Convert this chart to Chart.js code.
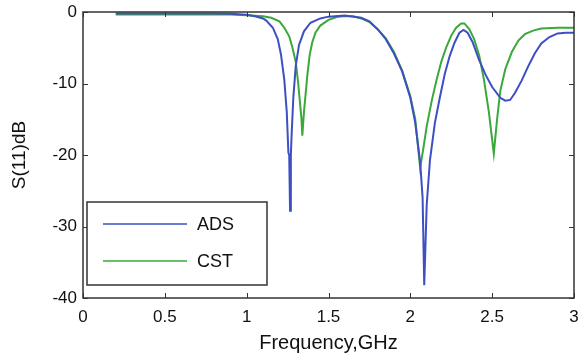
<!DOCTYPE html>
<html>
<head>
<meta charset="utf-8">
<script src="https://cdn.jsdelivr.net/npm/chart.js@4"></script>
<style>
  html, body { margin: 0; padding: 0; background: #fff; }
  #c { display: block; }
</style>
</head>
<body>
<canvas id="c" width="584" height="363"></canvas>
<script>
// Frequenties (GHz) en S(11) in dB
const adsFreq = [0.2, 0.4, 0.6, 0.8, 0.9, 1.0, 1.05, 1.1, 1.12, 1.16, 1.19, 1.21, 1.23, 1.245, 1.255, 1.26, 1.265, 1.27, 1.275, 1.285, 1.3, 1.32, 1.35, 1.39, 1.45, 1.5, 1.6, 1.7, 1.75, 1.8, 1.85, 1.9, 1.95, 2.0, 2.03, 2.06, 2.075, 2.085, 2.1, 2.12, 2.15, 2.18, 2.21, 2.24, 2.27, 2.3, 2.325, 2.35, 2.38, 2.42, 2.46, 2.5, 2.55, 2.58, 2.61, 2.64, 2.68, 2.72, 2.76, 2.8, 2.85, 2.9, 2.95, 3.0];
const adsDb = [-0.2, -0.2, -0.2, -0.2, -0.25, -0.4, -0.6, -0.9, -1.2, -2.2, -3.8, -6.0, -9.5, -14, -19.7, -20, -27.8, -20, -17, -12, -7.5, -4.6, -2.7, -1.5, -0.9, -0.65, -0.5, -0.8, -1.3, -2.4, -3.8, -5.8, -8.3, -12, -15.5, -21, -26, -38.2, -27, -20.7, -15.5, -12, -8.7, -6.2, -4.3, -2.9, -2.5, -2.9, -4.2, -6.7, -8.8, -10.5, -12, -12.4, -12.3, -11.3, -9.6, -7.6, -5.8, -4.4, -3.5, -3.0, -2.9, -2.9];

const cstFreq = [0.2, 0.4, 0.6, 0.8, 0.9, 1.0, 1.1, 1.15, 1.2, 1.23, 1.26, 1.28, 1.3, 1.315, 1.325, 1.335, 1.34, 1.35, 1.36, 1.37, 1.385, 1.4, 1.42, 1.45, 1.5, 1.55, 1.6, 1.65, 1.7, 1.75, 1.8, 1.85, 1.9, 1.95, 2.0, 2.03, 2.06, 2.08, 2.1, 2.13, 2.16, 2.19, 2.22, 2.25, 2.28, 2.31, 2.33, 2.36, 2.39, 2.42, 2.45, 2.48, 2.51, 2.53, 2.55, 2.58, 2.62, 2.66, 2.7, 2.75, 2.8, 2.9, 3.0];
const cstDb = [-0.35, -0.35, -0.35, -0.35, -0.35, -0.45, -0.6, -0.8, -1.3, -2.2, -3.4, -5, -7, -10, -12.5, -15, -17.3, -14, -11.5, -9, -6, -4.3, -2.9, -1.9, -1.1, -0.7, -0.55, -0.6, -0.9, -1.4, -2.4, -3.7, -5.6, -8.2, -11.8, -15, -21.8, -19, -16, -12.5, -9.5, -6.9, -4.9, -3.3, -2.2, -1.6, -1.6, -2.4, -3.8, -6, -9.5, -14, -19.8, -15, -11, -8, -5.6, -4.0, -3.1, -2.6, -2.3, -2.2, -2.2];

const xTicks = [0, 0.5, 1, 1.5, 2, 2.5, 3];
const yTicks = [0, -10, -20, -30, -40];
const reeksNamen = ["ADS", "CST"];
const kleuren = ["#3d4fc2", "#3aa83a"];

const FONT = "Liberation Sans, Arial, sans-serif";

function punten(fs, vs) { return fs.map((f, i) => ({ x: f, y: vs[i] })); }

// ticks naar binnen, kader en legenda
const kaderPlugin = {
  id: 'kader',
  afterDatasetsDraw(chart) {
    const ctx = chart.ctx, a = chart.chartArea;
    const sx = chart.scales.x, sy = chart.scales.y;
    ctx.save();
    ctx.strokeStyle = '#333';
    ctx.lineWidth = 1.5;
    ctx.strokeRect(a.left, a.top, a.right - a.left, a.bottom - a.top);
    ctx.lineWidth = 1;
    const t = 5;
    xTicks.forEach(v => {
      const px = Math.round(sx.getPixelForValue(v)) + 0.5;
      ctx.beginPath();
      ctx.moveTo(px, a.bottom); ctx.lineTo(px, a.bottom - t);
      ctx.moveTo(px, a.top); ctx.lineTo(px, a.top + t);
      ctx.stroke();
    });
    yTicks.forEach(v => {
      const py = Math.round(sy.getPixelForValue(v)) + 0.5;
      ctx.beginPath();
      ctx.moveTo(a.left, py); ctx.lineTo(a.left + t, py);
      ctx.moveTo(a.right, py); ctx.lineTo(a.right - t, py);
      ctx.stroke();
    });

    // legenda
    const lx = 87, ly = 202, lw = 180, lh = 83;
    ctx.fillStyle = '#fff';
    ctx.fillRect(lx, ly, lw, lh);
    ctx.strokeStyle = '#333';
    ctx.lineWidth = 1.5;
    ctx.strokeRect(lx, ly, lw, lh);
    ctx.font = '18px ' + FONT;
    ctx.textBaseline = 'middle';
    ctx.fillStyle = '#111';
    chart.data.datasets.forEach((ds, i) => {
      const y = ly + 22 + i * 37;
      ctx.strokeStyle = ds.borderColor;
      ctx.lineWidth = 1.5;
      ctx.beginPath();
      ctx.moveTo(lx + 16, y); ctx.lineTo(lx + 100, y);
      ctx.stroke();
      ctx.fillText(ds.label, lx + 110, y + 1);
    });
    ctx.restore();
  }
};

new Chart(document.getElementById('c'), {
  type: 'line',
  data: {
    datasets: [
      { label: reeksNamen[0], data: punten(adsFreq, adsDb), borderColor: kleuren[0], borderWidth: 2, pointRadius: 0, tension: 0, fill: false },
      { label: reeksNamen[1], data: punten(cstFreq, cstDb), borderColor: kleuren[1], borderWidth: 2, pointRadius: 0, tension: 0, fill: false }
    ]
  },
  options: {
    responsive: false,
    animation: false,
    layout: { padding: { top: 12, right: 10, left: 0, bottom: 0 } },
    plugins: { legend: { display: false }, tooltip: { enabled: false } },
    scales: {
      x: {
        type: 'linear', min: 0, max: 3,
        afterBuildTicks: s => { s.ticks = xTicks.map(v => ({ value: v })); },
        afterFit: s => { s.height = 65; s.paddingLeft = 0; s.paddingRight = 0; },
        grid: { display: false, drawTicks: false },
        border: { display: false },
        ticks: { color: '#111', font: { family: FONT, size: 17 }, padding: 9, maxRotation: 0,
                 callback: v => String(v) },
        title: { display: true, text: 'Frequency,GHz', color: '#111', font: { family: FONT, size: 20 }, padding: { top: 0, bottom: 8 } }
      },
      y: {
        type: 'linear', min: -40, max: 0,
        afterBuildTicks: s => { s.ticks = yTicks.map(v => ({ value: v })); },
        afterFit: s => { s.width = 83; s.paddingTop = 0; s.paddingBottom = 0; },
        grid: { display: false, drawTicks: false },
        border: { display: false },
        ticks: { color: '#111', font: { family: FONT, size: 17 }, padding: 6 },
        title: { display: true, text: 'S(11)dB', color: '#111', font: { family: FONT, size: 19 }, padding: { top: 8, bottom: 0 } }
      }
    }
  },
  plugins: [kaderPlugin]
});
</script>
</body>
</html>
